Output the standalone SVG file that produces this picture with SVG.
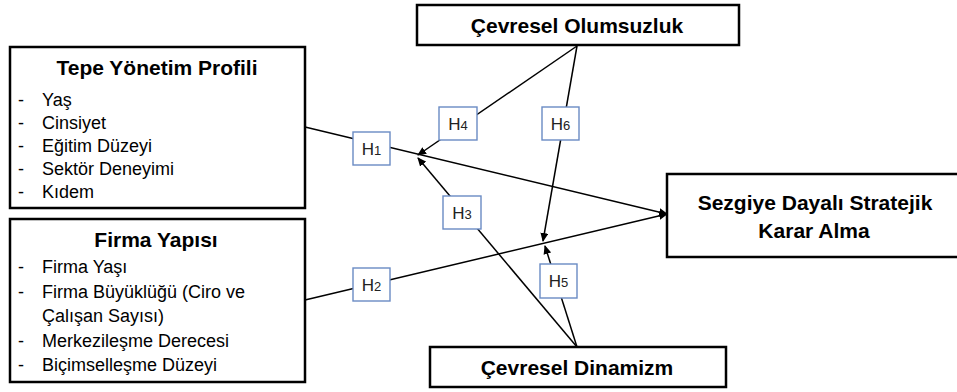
<svg xmlns="http://www.w3.org/2000/svg" width="957" height="392" viewBox="0 0 957 392">
<defs>
<marker id="arr" markerWidth="9" markerHeight="8" refX="8" refY="4" orient="auto" markerUnits="userSpaceOnUse">
<path d="M0,0 L9,4 L0,8 Z" fill="#000"/>
</marker>
<style>
.box{fill:#fff;stroke:#000;stroke-width:2.5}
.hb{fill:#fff;stroke:#6A8BC4;stroke-width:1.4}
.ln{fill:none;stroke:#000;stroke-width:1.5}
.t{font-family:"Liberation Sans",Arial,sans-serif;fill:#000}
.b{font-weight:bold;font-size:21px}
.li{font-size:18px}
.h{font-size:17px;fill:#222}
.d{font-size:13px}
</style>
</defs>
<g id="connectors">
<line class="ln" x1="305" y1="127" x2="667" y2="214" marker-end="url(#arr)"/>
<line class="ln" x1="305" y1="300" x2="667" y2="214" marker-end="url(#arr)"/>
<line class="ln" x1="577" y1="46" x2="418" y2="155" marker-end="url(#arr)"/>
<line class="ln" x1="577" y1="46" x2="543" y2="241" marker-end="url(#arr)"/>
<line class="ln" x1="577" y1="347" x2="418" y2="158" marker-end="url(#arr)"/>
<line class="ln" x1="577" y1="347" x2="545" y2="246" marker-end="url(#arr)"/>
</g>
<g id="tepe">
<rect class="box" x="10" y="47" width="295" height="161"/>
<text class="t b" x="157" y="75" text-anchor="middle">Tepe Yönetim Profili</text>
<text class="t li" x="18" y="105.5">-</text><text class="t li" x="42" y="105.5">Yaş</text>
<text class="t li" x="18" y="128.7">-</text><text class="t li" x="42" y="128.7">Cinsiyet</text>
<text class="t li" x="18" y="151.9">-</text><text class="t li" x="42" y="151.9">Eğitim Düzeyi</text>
<text class="t li" x="18" y="175.1">-</text><text class="t li" x="42" y="175.1">Sektör Deneyimi</text>
<text class="t li" x="18" y="198.3">-</text><text class="t li" x="42" y="198.3">Kıdem</text>
</g>
<g id="firma">
<rect class="box" x="10" y="219" width="295" height="163"/>
<text class="t b" x="156" y="246.5" text-anchor="middle">Firma Yapısı</text>
<text class="t li" x="18" y="273">-</text><text class="t li" x="42" y="273">Firma Yaşı</text>
<text class="t li" x="18" y="297.5">-</text><text class="t li" x="42" y="297.5">Firma Büyüklüğü (Ciro ve</text>
<text class="t li" x="42" y="322">Çalışan Sayısı)</text>
<text class="t li" x="18" y="346.5">-</text><text class="t li" x="42" y="346.5">Merkezileşme Derecesi</text>
<text class="t li" x="18" y="370.5">-</text><text class="t li" x="42" y="370.5">Biçimselleşme Düzeyi</text>
</g>
<g id="olumsuzluk">
<rect class="box" x="417" y="5" width="322" height="40"/>
<text class="t b" x="577" y="33" text-anchor="middle">Çevresel Olumsuzluk</text>
</g>
<g id="dinamizm">
<rect class="box" x="430" y="347" width="296" height="40"/>
<text class="t b" x="577" y="375" text-anchor="middle">Çevresel Dinamizm</text>
</g>
<g id="sezgiye">
<rect class="box" x="667" y="174" width="300" height="83"/>
<text class="t b" x="815" y="210" text-anchor="middle">Sezgiye Dayalı Stratejik</text>
<text class="t b" x="814" y="238" text-anchor="middle">Karar Alma</text>
</g>
<g id="h1"><rect class="hb" x="353" y="132" width="37" height="33"/><text class="t h" x="371.5" y="155" text-anchor="middle">H<tspan class="d">1</tspan></text></g>
<g id="h2"><rect class="hb" x="353" y="268" width="37" height="33"/><text class="t h" x="371.5" y="291" text-anchor="middle">H<tspan class="d">2</tspan></text></g>
<g id="h3"><rect class="hb" x="443" y="196" width="38" height="33"/><text class="t h" x="462" y="219" text-anchor="middle">H<tspan class="d">3</tspan></text></g>
<g id="h4"><rect class="hb" x="439" y="107" width="38" height="33"/><text class="t h" x="458" y="130" text-anchor="middle">H<tspan class="d">4</tspan></text></g>
<g id="h5"><rect class="hb" x="540" y="264" width="37" height="34"/><text class="t h" x="558.5" y="287" text-anchor="middle">H<tspan class="d">5</tspan></text></g>
<g id="h6"><rect class="hb" x="542" y="107" width="37" height="33"/><text class="t h" x="560.5" y="130" text-anchor="middle">H<tspan class="d">6</tspan></text></g>
</svg>
